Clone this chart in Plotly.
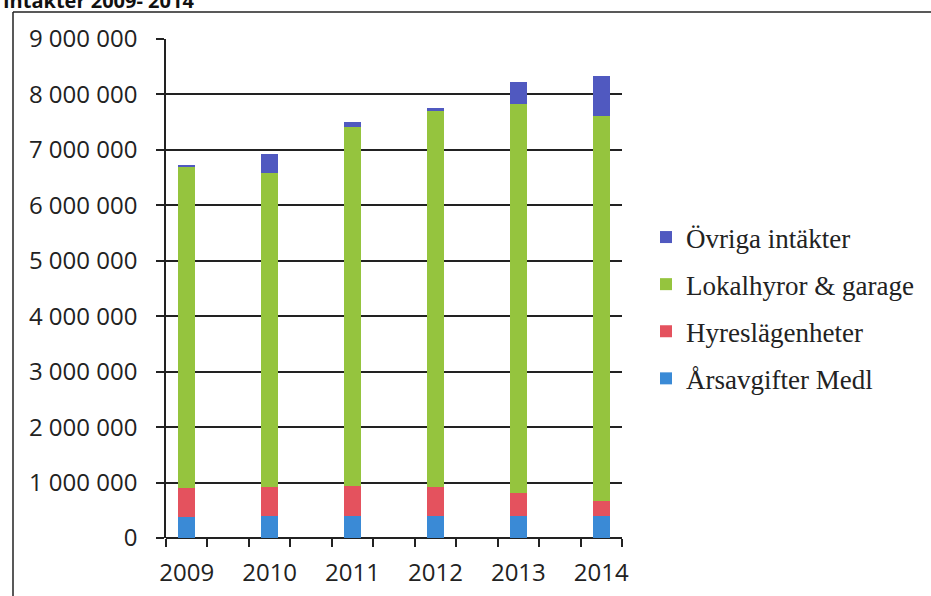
import plotly.graph_objects as go

years = ["2009", "2010", "2011", "2012", "2013", "2014"]
arsavgifter = [380000, 390000, 390000, 390000, 400000, 400000]
hyreslagenheter = [530000, 535000, 550000, 525000, 410000, 260000]
lokalhyror = [5790000, 5655000, 6480000, 6795000, 7020000, 6960000]
ovriga = [30000, 350000, 90000, 40000, 400000, 720000]

series = [
    ("Årsavgifter Medl", arsavgifter, "#3a8ad6"),
    ("Hyreslägenheter", hyreslagenheter, "#e4525e"),
    ("Lokalhyror & garage", lokalhyror, "#95c43e"),
    ("Övriga intäkter", ovriga, "#5059c0"),
]

ytickvals = [i * 1000000 for i in range(10)]
yticktext = ["0"] + [f"{i} 000 000" for i in range(1, 10)]

# years occupy every other category slot (blank slots between)
xpos = [2 * i for i in range(len(years))]

fig = go.Figure()
n = len(series)
for i, (name, vals, col) in enumerate(series):
    fig.add_trace(go.Bar(x=xpos, y=vals, name=name, width=0.41,
                         marker=dict(color=col, line=dict(width=0)),
                         legendgroup=f"g{i}", legendrank=1000 + (n - i)))

L, R, T, B = 166, 309, 39, 58
W, H = 931, 596
pw, ph = W - L - R, H - T - B

def px_x(px):
    return (px - L) / pw

def px_y(py):
    return (H - B - py) / ph

fig.update_layout(
    width=W, height=H,
    margin=dict(l=L, r=R, t=T, b=B, pad=0, autoexpand=False),
    barmode="stack",
    paper_bgcolor="white", plot_bgcolor="white",
    font=dict(family="Open Sans", size=24, color="#222"),
    showlegend=True,
    legend=dict(x=px_x(646), xanchor="left", y=px_y(308), yanchor="middle",
                traceorder="grouped", tracegroupgap=9,
                font=dict(family="Liberation Serif", size=27, color="#222"),
                bgcolor="rgba(0,0,0,0)", itemwidth=30),
    xaxis=dict(range=[-0.5, 10.5], tickmode="array", tickvals=xpos, ticktext=years,
               ticks="", showgrid=False, zeroline=False, showline=False,
               ticklabelstandoff=18, automargin=False,
               tickfont=dict(family="Open Sans", size=24, color="#222"),
               minor=dict(tickmode="array", tickvals=[k - 0.5 for k in range(12)],
                          ticks="outside", ticklen=8, tickwidth=1.5, tickcolor="#222",
                          showgrid=False),
               fixedrange=True),
    yaxis=dict(range=[0, 9000000], tickmode="array", tickvals=ytickvals, ticktext=yticktext,
               ticks="outside", ticklen=8, tickwidth=1.5, tickcolor="#222",
               showgrid=True, gridcolor="#222", gridwidth=1.5,
               zeroline=True, zerolinecolor="#222", zerolinewidth=1.5,
               showline=True, linecolor="#222", linewidth=1.5,
               ticklabelstandoff=14, automargin=False,
               tickfont=dict(family="Open Sans", size=24, color="#222"),
               fixedrange=True),
    shapes=[
        dict(type="line", xref="paper", yref="paper", x0=px_x(13), x1=px_x(940),
             y0=px_y(12), y1=px_y(12), line=dict(color="#222", width=1.5)),
        dict(type="line", xref="paper", yref="paper", x0=px_x(13), x1=px_x(13),
             y0=px_y(12), y1=px_y(600), line=dict(color="#222", width=1.5)),
    ],
    annotations=[
        dict(text="<b>Intäkter 2009- 2014</b>", xref="paper", yref="paper",
             x=px_x(1), xanchor="left", y=px_y(0), yanchor="middle", showarrow=False,
             font=dict(family="Open Sans", size=20, color="#111")),
    ],
)

fig.write_html("out.html")
